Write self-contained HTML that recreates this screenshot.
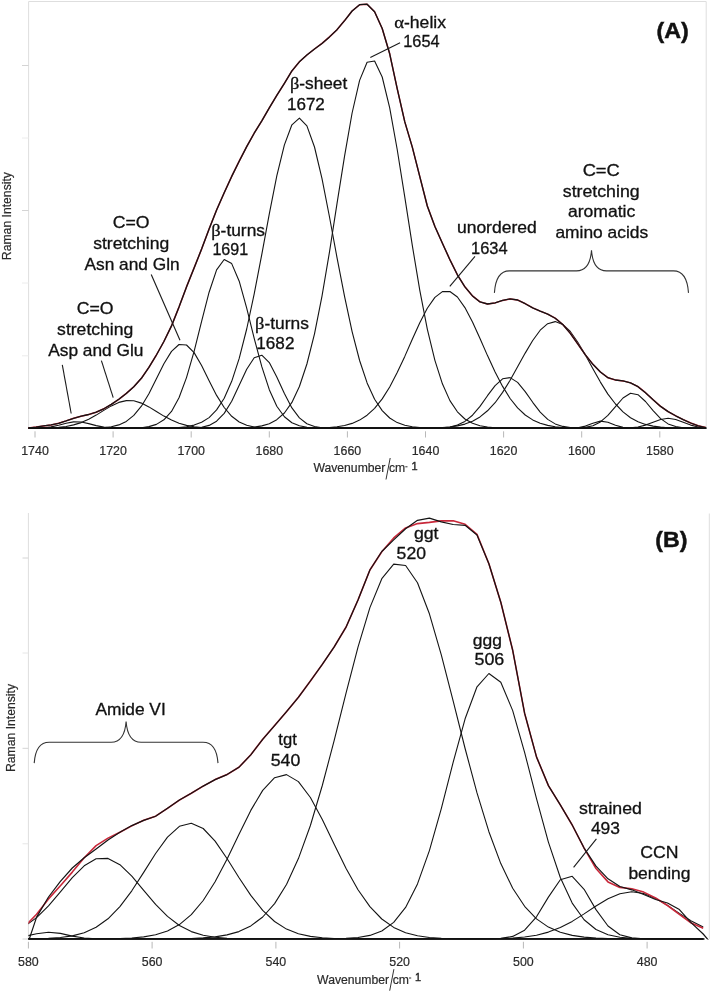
<!DOCTYPE html>
<html><head><meta charset="utf-8"><title>Raman spectra</title>
<style>html,body{margin:0;padding:0;background:#fff;width:714px;height:995px;overflow:hidden}svg{display:block;will-change:transform}</style>
</head><body>
<svg width="714" height="995" viewBox="0 0 714 995">
<style>
.c{fill:none;stroke:#141414;stroke-width:1.1;stroke-linejoin:round}
.r{fill:none;stroke:#c8283a;stroke-width:1.6;stroke-linejoin:round}
.e{fill:none;stroke:#141414;stroke-width:1.2;stroke-linejoin:round}
.ra{fill:none;stroke:#c8283a;stroke-width:1.5;stroke-linejoin:round}
.ea{fill:none;stroke:#141414;stroke-width:1.3;stroke-linejoin:round}
.fr{fill:none;stroke:#dedede;stroke-width:1}
.tk{stroke:#d4d4d4;stroke-width:1}
.xt{stroke:#b8b8b8;stroke-width:1}
.ax{stroke:#111;stroke-width:1.7}
.ld{stroke:#1a1a1a;stroke-width:1.1;fill:none}
.br{stroke:#333;stroke-width:1.1;fill:none}
text{font-family:"Liberation Sans",sans-serif;fill:#111}
.lb{font-size:16px;text-anchor:middle;stroke:#111;stroke-width:0.3px}
.tl{font-size:12.4px;fill:#2a2a2a;text-anchor:middle;stroke:#2a2a2a;stroke-width:0.2px}
.al{font-size:12.2px;fill:#2a2a2a;stroke:#2a2a2a;stroke-width:0.2px}
.gk{font-family:"Liberation Serif",serif;font-size:17px}
.pl{font-size:21.5px;font-weight:bold;text-anchor:middle;stroke:#111;stroke-width:0.45px}
</style>
<polyline class="fr" points="28.6,428.3 28.6,1.5 706.2,1.5 706.2,428.3"/>
<line class="fr" x1="28.4" y1="513" x2="28.4" y2="939"/>
<line class="fr" x1="709.3" y1="513.5" x2="709.3" y2="939"/>
<line class="tk" x1="22" y1="65.5" x2="28.6" y2="65.5"/>
<line class="tk" x1="22" y1="210.5" x2="28.6" y2="210.5"/>
<line class="tk" style="stroke:#ececec" x1="22" y1="138.0" x2="28.6" y2="138.0"/>
<line class="tk" style="stroke:#ececec" x1="22" y1="283.0" x2="28.6" y2="283.0"/>
<line class="tk" style="stroke:#ececec" x1="22" y1="355.8" x2="28.6" y2="355.8"/>
<line class="tk" x1="22.5" y1="558.0" x2="28.4" y2="558.0"/>
<line class="tk" x1="22.5" y1="748.3" x2="28.4" y2="748.3"/>
<line class="tk" x1="22.5" y1="939.0" x2="28.4" y2="939.0"/>
<line class="tk" style="stroke:#e6e6e6" x1="22.5" y1="653.0" x2="28.4" y2="653.0"/>
<line class="tk" style="stroke:#e6e6e6" x1="22.5" y1="843.8" x2="28.4" y2="843.8"/>
<line class="xt" x1="35.0" y1="431.3" x2="35.0" y2="437.5"/>
<text class="tl" x="35.0" y="454.8">1740</text>
<line class="xt" x1="113.1" y1="431.3" x2="113.1" y2="437.5"/>
<text class="tl" x="113.1" y="454.8">1720</text>
<line class="xt" x1="191.2" y1="431.3" x2="191.2" y2="437.5"/>
<text class="tl" x="191.2" y="454.8">1700</text>
<line class="xt" x1="269.3" y1="431.3" x2="269.3" y2="437.5"/>
<text class="tl" x="269.3" y="454.8">1680</text>
<line class="xt" x1="347.4" y1="431.3" x2="347.4" y2="437.5"/>
<text class="tl" x="347.4" y="454.8">1660</text>
<line class="xt" x1="425.5" y1="431.3" x2="425.5" y2="437.5"/>
<text class="tl" x="425.5" y="454.8">1640</text>
<line class="xt" x1="503.6" y1="431.3" x2="503.6" y2="437.5"/>
<text class="tl" x="503.6" y="454.8">1620</text>
<line class="xt" x1="581.7" y1="431.3" x2="581.7" y2="437.5"/>
<text class="tl" x="581.7" y="454.8">1600</text>
<line class="xt" x1="659.8" y1="431.3" x2="659.8" y2="437.5"/>
<text class="tl" x="659.8" y="454.8">1580</text>
<line class="xt" x1="28.4" y1="941.8" x2="28.4" y2="948.5"/>
<text class="tl" x="28.4" y="966">580</text>
<line class="xt" x1="152.1" y1="941.8" x2="152.1" y2="948.5"/>
<text class="tl" x="152.1" y="966">560</text>
<line class="xt" x1="275.9" y1="941.8" x2="275.9" y2="948.5"/>
<text class="tl" x="275.9" y="966">540</text>
<line class="xt" x1="399.6" y1="941.8" x2="399.6" y2="948.5"/>
<text class="tl" x="399.6" y="966">520</text>
<line class="xt" x1="523.4" y1="941.8" x2="523.4" y2="948.5"/>
<text class="tl" x="523.4" y="966">500</text>
<line class="xt" x1="647.1" y1="941.8" x2="647.1" y2="948.5"/>
<text class="tl" x="647.1" y="966">480</text>
<polyline class="c" points="28.5,428.3 36.0,428.2 43.5,427.8 51.1,426.9 58.6,425.3 66.1,423.2 73.6,421.9 81.2,422.0 88.7,423.6 96.2,425.6 103.8,427.1 111.3,427.9 118.8,428.2 126.3,428.3 133.8,428.3 141.4,428.3 148.9,428.3 156.4,428.3 163.9,428.3 171.5,428.3 179.0,428.3 186.5,428.3 194.1,428.3 201.6,428.3 209.1,428.3 216.6,428.3 224.2,428.3 231.7,428.3 239.2,428.3 246.7,428.3 254.2,428.3 261.8,428.3 269.3,428.3 276.8,428.3 284.4,428.3 291.9,428.3 299.4,428.3 306.9,428.3 314.5,428.3 322.0,428.3 329.5,428.3 337.0,428.3 344.6,428.3 352.1,428.3 359.6,428.3 367.1,428.3 374.6,428.3 382.2,428.3 389.7,428.3 397.2,428.3 404.8,428.3 412.3,428.3 419.8,428.3 427.3,428.3 434.9,428.3 442.4,428.3 449.9,428.3 457.4,428.3 464.9,428.3 472.5,428.3 480.0,428.3 487.5,428.3 495.1,428.3 502.6,428.3 510.1,428.3 517.6,428.3 525.2,428.3 532.7,428.3 540.2,428.3 547.7,428.3 555.2,428.3 562.8,428.3 570.3,428.3 577.8,428.3 585.4,428.3 592.9,428.3 600.4,428.3 607.9,428.3 615.5,428.3 623.0,428.3 630.5,428.3 638.0,428.3 645.5,428.3 653.1,428.3 660.6,428.3 668.1,428.3 675.7,428.3 683.2,428.3 690.7,428.3 698.2,428.3 705.8,428.3"/>
<polyline class="c" points="28.5,428.3 36.0,428.2 43.5,428.1 51.1,427.9 58.6,427.4 66.1,426.5 73.6,424.9 81.2,422.6 88.7,419.2 96.2,415.1 103.8,410.4 111.3,405.9 118.8,402.4 126.3,400.6 133.8,400.8 141.4,403.1 148.9,406.9 156.4,411.5 163.9,416.1 171.5,420.1 179.0,423.2 186.5,425.4 194.1,426.7 201.6,427.5 209.1,428.0 216.6,428.2 224.2,428.2 231.7,428.3 239.2,428.3 246.7,428.3 254.2,428.3 261.8,428.3 269.3,428.3 276.8,428.3 284.4,428.3 291.9,428.3 299.4,428.3 306.9,428.3 314.5,428.3 322.0,428.3 329.5,428.3 337.0,428.3 344.6,428.3 352.1,428.3 359.6,428.3 367.1,428.3 374.6,428.3 382.2,428.3 389.7,428.3 397.2,428.3 404.8,428.3 412.3,428.3 419.8,428.3 427.3,428.3 434.9,428.3 442.4,428.3 449.9,428.3 457.4,428.3 464.9,428.3 472.5,428.3 480.0,428.3 487.5,428.3 495.1,428.3 502.6,428.3 510.1,428.3 517.6,428.3 525.2,428.3 532.7,428.3 540.2,428.3 547.7,428.3 555.2,428.3 562.8,428.3 570.3,428.3 577.8,428.3 585.4,428.3 592.9,428.3 600.4,428.3 607.9,428.3 615.5,428.3 623.0,428.3 630.5,428.3 638.0,428.3 645.5,428.3 653.1,428.3 660.6,428.3 668.1,428.3 675.7,428.3 683.2,428.3 690.7,428.3 698.2,428.3 705.8,428.3"/>
<polyline class="c" points="28.5,428.3 36.0,428.3 43.5,428.3 51.1,428.3 58.6,428.3 66.1,428.3 73.6,428.3 81.2,428.3 88.7,428.2 96.2,428.1 103.8,427.7 111.3,426.8 118.8,424.9 126.3,421.4 133.8,415.4 141.4,406.2 148.9,393.7 156.4,378.8 163.9,363.8 171.5,351.4 179.0,344.5 186.5,345.0 194.1,352.6 201.6,365.5 209.1,380.7 216.6,395.4 224.2,407.5 231.7,416.3 239.2,422.0 246.7,425.2 254.2,427.0 261.8,427.8 269.3,428.1 276.8,428.2 284.4,428.3 291.9,428.3 299.4,428.3 306.9,428.3 314.5,428.3 322.0,428.3 329.5,428.3 337.0,428.3 344.6,428.3 352.1,428.3 359.6,428.3 367.1,428.3 374.6,428.3 382.2,428.3 389.7,428.3 397.2,428.3 404.8,428.3 412.3,428.3 419.8,428.3 427.3,428.3 434.9,428.3 442.4,428.3 449.9,428.3 457.4,428.3 464.9,428.3 472.5,428.3 480.0,428.3 487.5,428.3 495.1,428.3 502.6,428.3 510.1,428.3 517.6,428.3 525.2,428.3 532.7,428.3 540.2,428.3 547.7,428.3 555.2,428.3 562.8,428.3 570.3,428.3 577.8,428.3 585.4,428.3 592.9,428.3 600.4,428.3 607.9,428.3 615.5,428.3 623.0,428.3 630.5,428.3 638.0,428.3 645.5,428.3 653.1,428.3 660.6,428.3 668.1,428.3 675.7,428.3 683.2,428.3 690.7,428.3 698.2,428.3 705.8,428.3"/>
<polyline class="c" points="28.5,428.3 36.0,428.3 43.5,428.3 51.1,428.3 58.6,428.3 66.1,428.3 73.6,428.3 81.2,428.3 88.7,428.3 96.2,428.3 103.8,428.3 111.3,428.3 118.8,428.3 126.3,428.2 133.8,428.1 141.4,427.7 148.9,426.6 156.4,424.4 163.9,419.8 171.5,411.4 179.0,397.7 186.5,377.6 194.1,351.3 201.6,321.3 209.1,292.2 216.6,269.9 224.2,259.5 231.7,263.6 239.2,281.2 246.7,308.1 254.2,338.4 261.8,366.7 269.3,389.7 276.8,406.2 284.4,416.7 291.9,422.7 299.4,425.8 306.9,427.3 314.5,427.9 322.0,428.2 329.5,428.3 337.0,428.3 344.6,428.3 352.1,428.3 359.6,428.3 367.1,428.3 374.6,428.3 382.2,428.3 389.7,428.3 397.2,428.3 404.8,428.3 412.3,428.3 419.8,428.3 427.3,428.3 434.9,428.3 442.4,428.3 449.9,428.3 457.4,428.3 464.9,428.3 472.5,428.3 480.0,428.3 487.5,428.3 495.1,428.3 502.6,428.3 510.1,428.3 517.6,428.3 525.2,428.3 532.7,428.3 540.2,428.3 547.7,428.3 555.2,428.3 562.8,428.3 570.3,428.3 577.8,428.3 585.4,428.3 592.9,428.3 600.4,428.3 607.9,428.3 615.5,428.3 623.0,428.3 630.5,428.3 638.0,428.3 645.5,428.3 653.1,428.3 660.6,428.3 668.1,428.3 675.7,428.3 683.2,428.3 690.7,428.3 698.2,428.3 705.8,428.3"/>
<polyline class="c" points="28.5,428.3 36.0,428.3 43.5,428.3 51.1,428.3 58.6,428.3 66.1,428.3 73.6,428.3 81.2,428.3 88.7,428.3 96.2,428.3 103.8,428.3 111.3,428.3 118.8,428.3 126.3,428.3 133.8,428.3 141.4,428.3 148.9,428.3 156.4,428.3 163.9,428.3 171.5,428.3 179.0,428.3 186.5,428.2 194.1,428.0 201.6,427.3 209.1,425.4 216.6,421.2 224.2,413.4 231.7,401.2 239.2,385.3 246.7,369.2 254.2,357.8 261.8,355.2 269.3,362.6 276.8,377.0 284.4,393.5 291.9,407.9 299.4,417.9 306.9,423.7 314.5,426.5 322.0,427.7 329.5,428.1 337.0,428.3 344.6,428.3 352.1,428.3 359.6,428.3 367.1,428.3 374.6,428.3 382.2,428.3 389.7,428.3 397.2,428.3 404.8,428.3 412.3,428.3 419.8,428.3 427.3,428.3 434.9,428.3 442.4,428.3 449.9,428.3 457.4,428.3 464.9,428.3 472.5,428.3 480.0,428.3 487.5,428.3 495.1,428.3 502.6,428.3 510.1,428.3 517.6,428.3 525.2,428.3 532.7,428.3 540.2,428.3 547.7,428.3 555.2,428.3 562.8,428.3 570.3,428.3 577.8,428.3 585.4,428.3 592.9,428.3 600.4,428.3 607.9,428.3 615.5,428.3 623.0,428.3 630.5,428.3 638.0,428.3 645.5,428.3 653.1,428.3 660.6,428.3 668.1,428.3 675.7,428.3 683.2,428.3 690.7,428.3 698.2,428.3 705.8,428.3"/>
<polyline class="c" points="28.5,428.3 36.0,428.3 43.5,428.3 51.1,428.3 58.6,428.3 66.1,428.3 73.6,428.3 81.2,428.3 88.7,428.3 96.2,428.3 103.8,428.3 111.3,428.3 118.8,428.3 126.3,428.3 133.8,428.3 141.4,428.3 148.9,428.3 156.4,428.2 163.9,428.1 171.5,427.9 179.0,427.5 186.5,426.7 194.1,425.1 201.6,422.3 209.1,417.6 216.6,409.9 224.2,398.2 231.7,381.3 239.2,358.4 246.7,329.0 254.2,293.8 261.8,254.4 269.3,213.8 276.8,175.9 284.4,144.9 291.9,124.8 299.4,118.1 306.9,125.9 314.5,147.0 322.0,178.7 329.5,217.0 337.0,257.6 344.6,296.7 352.1,331.6 359.6,360.5 367.1,382.9 374.6,399.3 382.2,410.6 389.7,418.0 397.2,422.6 404.8,425.3 412.3,426.8 419.8,427.6 427.3,428.0 434.9,428.2 442.4,428.2 449.9,428.3 457.4,428.3 464.9,428.3 472.5,428.3 480.0,428.3 487.5,428.3 495.1,428.3 502.6,428.3 510.1,428.3 517.6,428.3 525.2,428.3 532.7,428.3 540.2,428.3 547.7,428.3 555.2,428.3 562.8,428.3 570.3,428.3 577.8,428.3 585.4,428.3 592.9,428.3 600.4,428.3 607.9,428.3 615.5,428.3 623.0,428.3 630.5,428.3 638.0,428.3 645.5,428.3 653.1,428.3 660.6,428.3 668.1,428.3 675.7,428.3 683.2,428.3 690.7,428.3 698.2,428.3 705.8,428.3"/>
<polyline class="c" points="28.5,428.3 36.0,428.3 43.5,428.3 51.1,428.3 58.6,428.3 66.1,428.3 73.6,428.3 81.2,428.3 88.7,428.3 96.2,428.3 103.8,428.3 111.3,428.3 118.8,428.3 126.3,428.3 133.8,428.3 141.4,428.3 148.9,428.3 156.4,428.3 163.9,428.3 171.5,428.3 179.0,428.3 186.5,428.3 194.1,428.3 201.6,428.3 209.1,428.3 216.6,428.3 224.2,428.3 231.7,428.2 239.2,428.1 246.7,427.8 254.2,427.1 261.8,425.9 269.3,423.7 276.8,419.7 284.4,413.0 291.9,402.4 299.4,386.5 306.9,364.0 314.5,333.8 322.0,296.1 329.5,251.9 337.0,203.7 344.6,155.8 352.1,113.0 359.6,80.4 367.1,62.2 374.6,61.0 382.2,77.0 389.7,107.8 397.2,149.5 404.8,197.1 412.3,245.4 419.8,290.4 427.3,329.1 434.9,360.3 442.4,383.8 449.9,400.6 457.4,411.8 464.9,419.0 472.5,423.3 480.0,425.7 487.5,427.0 495.1,427.7 502.6,428.0 510.1,428.2 517.6,428.3 525.2,428.3 532.7,428.3 540.2,428.3 547.7,428.3 555.2,428.3 562.8,428.3 570.3,428.3 577.8,428.3 585.4,428.3 592.9,428.3 600.4,428.3 607.9,428.3 615.5,428.3 623.0,428.3 630.5,428.3 638.0,428.3 645.5,428.3 653.1,428.3 660.6,428.3 668.1,428.3 675.7,428.3 683.2,428.3 690.7,428.3 698.2,428.3 705.8,428.3"/>
<polyline class="c" points="28.5,428.3 36.0,428.3 43.5,428.3 51.1,428.3 58.6,428.3 66.1,428.3 73.6,428.3 81.2,428.3 88.7,428.3 96.2,428.3 103.8,428.3 111.3,428.3 118.8,428.3 126.3,428.3 133.8,428.3 141.4,428.3 148.9,428.3 156.4,428.3 163.9,428.3 171.5,428.3 179.0,428.3 186.5,428.3 194.1,428.3 201.6,428.3 209.1,428.3 216.6,428.3 224.2,428.3 231.7,428.3 239.2,428.3 246.7,428.3 254.2,428.3 261.8,428.3 269.3,428.3 276.8,428.3 284.4,428.3 291.9,428.3 299.4,428.3 306.9,428.2 314.5,428.1 322.0,427.9 329.5,427.5 337.0,426.7 344.6,425.5 352.1,423.4 359.6,420.1 367.1,415.2 374.6,408.3 382.2,398.9 389.7,387.0 397.2,372.6 404.8,356.4 412.3,339.3 419.8,322.7 427.3,308.2 434.9,297.4 442.4,291.6 449.9,291.5 457.4,297.0 464.9,307.6 472.5,322.0 480.0,338.5 487.5,355.6 495.1,371.9 502.6,386.4 510.1,398.5 517.6,407.9 525.2,415.0 532.7,419.9 540.2,423.3 547.7,425.4 555.2,426.7 562.8,427.5 570.3,427.9 577.8,428.1 585.4,428.2 592.9,428.3 600.4,428.3 607.9,428.3 615.5,428.3 623.0,428.3 630.5,428.3 638.0,428.3 645.5,428.3 653.1,428.3 660.6,428.3 668.1,428.3 675.7,428.3 683.2,428.3 690.7,428.3 698.2,428.3 705.8,428.3"/>
<polyline class="c" points="28.5,428.3 36.0,428.3 43.5,428.3 51.1,428.3 58.6,428.3 66.1,428.3 73.6,428.3 81.2,428.3 88.7,428.3 96.2,428.3 103.8,428.3 111.3,428.3 118.8,428.3 126.3,428.3 133.8,428.3 141.4,428.3 148.9,428.3 156.4,428.3 163.9,428.3 171.5,428.3 179.0,428.3 186.5,428.3 194.1,428.3 201.6,428.3 209.1,428.3 216.6,428.3 224.2,428.3 231.7,428.3 239.2,428.3 246.7,428.3 254.2,428.3 261.8,428.3 269.3,428.3 276.8,428.3 284.4,428.3 291.9,428.3 299.4,428.3 306.9,428.3 314.5,428.3 322.0,428.3 329.5,428.3 337.0,428.3 344.6,428.3 352.1,428.3 359.6,428.3 367.1,428.3 374.6,428.3 382.2,428.3 389.7,428.3 397.2,428.3 404.8,428.3 412.3,428.3 419.8,428.3 427.3,428.3 434.9,428.1 442.4,427.8 449.9,427.0 457.4,425.1 464.9,421.4 472.5,415.2 480.0,406.4 487.5,395.7 495.1,385.6 502.6,378.8 510.1,377.6 517.6,382.4 525.2,391.6 532.7,402.3 540.2,412.1 547.7,419.4 555.2,423.9 562.8,426.4 570.3,427.6 577.8,428.1 585.4,428.2 592.9,428.3 600.4,428.3 607.9,428.3 615.5,428.3 623.0,428.3 630.5,428.3 638.0,428.3 645.5,428.3 653.1,428.3 660.6,428.3 668.1,428.3 675.7,428.3 683.2,428.3 690.7,428.3 698.2,428.3 705.8,428.3"/>
<polyline class="c" points="28.5,428.3 36.0,428.3 43.5,428.3 51.1,428.3 58.6,428.3 66.1,428.3 73.6,428.3 81.2,428.3 88.7,428.3 96.2,428.3 103.8,428.3 111.3,428.3 118.8,428.3 126.3,428.3 133.8,428.3 141.4,428.3 148.9,428.3 156.4,428.3 163.9,428.3 171.5,428.3 179.0,428.3 186.5,428.3 194.1,428.3 201.6,428.3 209.1,428.3 216.6,428.3 224.2,428.3 231.7,428.3 239.2,428.3 246.7,428.3 254.2,428.3 261.8,428.3 269.3,428.3 276.8,428.3 284.4,428.3 291.9,428.3 299.4,428.3 306.9,428.3 314.5,428.3 322.0,428.3 329.5,428.3 337.0,428.3 344.6,428.3 352.1,428.3 359.6,428.3 367.1,428.3 374.6,428.3 382.2,428.3 389.7,428.3 397.2,428.3 404.8,428.3 412.3,428.3 419.8,428.2 427.3,428.1 434.9,428.0 442.4,427.6 449.9,427.0 457.4,425.9 464.9,424.1 472.5,421.2 480.0,416.9 487.5,410.8 495.1,402.7 502.6,392.4 510.1,380.3 517.6,366.8 525.2,353.1 532.7,340.5 540.2,330.2 547.7,323.7 555.2,321.6 562.8,324.4 570.3,331.5 577.8,342.2 585.4,355.1 592.9,368.8 600.4,382.1 607.9,394.1 615.5,404.0 623.0,411.9 630.5,417.7 638.0,421.7 645.5,424.4 653.1,426.1 660.6,427.1 668.1,427.7 675.7,428.0 683.2,428.2 690.7,428.2 698.2,428.3 705.8,428.3"/>
<polyline class="c" points="28.5,428.3 36.0,428.3 43.5,428.3 51.1,428.3 58.6,428.3 66.1,428.3 73.6,428.3 81.2,428.3 88.7,428.3 96.2,428.3 103.8,428.3 111.3,428.3 118.8,428.3 126.3,428.3 133.8,428.3 141.4,428.3 148.9,428.3 156.4,428.3 163.9,428.3 171.5,428.3 179.0,428.3 186.5,428.3 194.1,428.3 201.6,428.3 209.1,428.3 216.6,428.3 224.2,428.3 231.7,428.3 239.2,428.3 246.7,428.3 254.2,428.3 261.8,428.3 269.3,428.3 276.8,428.3 284.4,428.3 291.9,428.3 299.4,428.3 306.9,428.3 314.5,428.3 322.0,428.3 329.5,428.3 337.0,428.3 344.6,428.3 352.1,428.3 359.6,428.3 367.1,428.3 374.6,428.3 382.2,428.3 389.7,428.3 397.2,428.3 404.8,428.3 412.3,428.3 419.8,428.3 427.3,428.3 434.9,428.3 442.4,428.3 449.9,428.3 457.4,428.3 464.9,428.3 472.5,428.3 480.0,428.3 487.5,428.3 495.1,428.3 502.6,428.3 510.1,428.3 517.6,428.3 525.2,428.3 532.7,428.3 540.2,428.3 547.7,428.3 555.2,428.3 562.8,428.3 570.3,428.2 577.8,427.7 585.4,426.1 592.9,423.2 600.4,421.1 607.9,422.3 615.5,425.3 623.0,427.4 630.5,428.1 638.0,428.3 645.5,428.3 653.1,428.3 660.6,428.3 668.1,428.3 675.7,428.3 683.2,428.3 690.7,428.3 698.2,428.3 705.8,428.3"/>
<polyline class="c" points="28.5,428.3 36.0,428.3 43.5,428.3 51.1,428.3 58.6,428.3 66.1,428.3 73.6,428.3 81.2,428.3 88.7,428.3 96.2,428.3 103.8,428.3 111.3,428.3 118.8,428.3 126.3,428.3 133.8,428.3 141.4,428.3 148.9,428.3 156.4,428.3 163.9,428.3 171.5,428.3 179.0,428.3 186.5,428.3 194.1,428.3 201.6,428.3 209.1,428.3 216.6,428.3 224.2,428.3 231.7,428.3 239.2,428.3 246.7,428.3 254.2,428.3 261.8,428.3 269.3,428.3 276.8,428.3 284.4,428.3 291.9,428.3 299.4,428.3 306.9,428.3 314.5,428.3 322.0,428.3 329.5,428.3 337.0,428.3 344.6,428.3 352.1,428.3 359.6,428.3 367.1,428.3 374.6,428.3 382.2,428.3 389.7,428.3 397.2,428.3 404.8,428.3 412.3,428.3 419.8,428.3 427.3,428.3 434.9,428.3 442.4,428.3 449.9,428.3 457.4,428.3 464.9,428.3 472.5,428.3 480.0,428.3 487.5,428.3 495.1,428.3 502.6,428.3 510.1,428.3 517.6,428.3 525.2,428.3 532.7,428.3 540.2,428.3 547.7,428.3 555.2,428.3 562.8,428.3 570.3,428.2 577.8,428.1 585.4,427.4 592.9,425.7 600.4,421.9 607.9,415.4 615.5,406.6 623.0,398.0 630.5,393.3 638.0,394.7 645.5,401.5 653.1,410.6 660.6,418.6 668.1,423.9 675.7,426.6 683.2,427.8 690.7,428.2 698.2,428.3 705.8,428.3"/>
<polyline class="c" points="28.5,428.3 36.0,428.3 43.5,428.3 51.1,428.3 58.6,428.3 66.1,428.3 73.6,428.3 81.2,428.3 88.7,428.3 96.2,428.3 103.8,428.3 111.3,428.3 118.8,428.3 126.3,428.3 133.8,428.3 141.4,428.3 148.9,428.3 156.4,428.3 163.9,428.3 171.5,428.3 179.0,428.3 186.5,428.3 194.1,428.3 201.6,428.3 209.1,428.3 216.6,428.3 224.2,428.3 231.7,428.3 239.2,428.3 246.7,428.3 254.2,428.3 261.8,428.3 269.3,428.3 276.8,428.3 284.4,428.3 291.9,428.3 299.4,428.3 306.9,428.3 314.5,428.3 322.0,428.3 329.5,428.3 337.0,428.3 344.6,428.3 352.1,428.3 359.6,428.3 367.1,428.3 374.6,428.3 382.2,428.3 389.7,428.3 397.2,428.3 404.8,428.3 412.3,428.3 419.8,428.3 427.3,428.3 434.9,428.3 442.4,428.3 449.9,428.3 457.4,428.3 464.9,428.3 472.5,428.3 480.0,428.3 487.5,428.3 495.1,428.3 502.6,428.3 510.1,428.3 517.6,428.3 525.2,428.3 532.7,428.3 540.2,428.3 547.7,428.3 555.2,428.3 562.8,428.3 570.3,428.3 577.8,428.3 585.4,428.3 592.9,428.3 600.4,428.3 607.9,428.3 615.5,428.3 623.0,428.2 630.5,427.9 638.0,427.0 645.5,425.1 653.1,422.2 660.6,419.5 668.1,418.3 675.7,419.5 683.2,422.3 690.7,425.1 698.2,427.0 705.8,427.9"/>
<polyline class="ra" points="28.5,428.1 36.0,427.1 43.5,425.9 51.1,424.9 58.6,423.3 66.1,420.9 73.6,418.3 81.2,416.2 88.7,414.5 96.2,412.2 103.8,408.8 111.3,404.4 118.8,399.3 126.3,393.4 133.8,386.7 141.4,378.3 148.9,367.4 156.4,355.0 163.9,341.5 171.5,325.9 179.0,307.1 186.5,286.9 194.1,267.9 201.6,249.1 209.1,229.0 216.6,210.0 224.2,192.7 231.7,176.4 239.2,161.2 246.7,146.6 254.2,133.2 261.8,120.8 269.3,107.9 276.8,95.4 284.4,83.3 291.9,70.9 299.4,61.8 306.9,55.0 314.5,49.0 322.0,43.4 329.5,36.9 337.0,29.7 344.6,20.6 352.1,11.0 359.6,4.7 367.1,4.2 374.6,11.7 382.2,28.5 389.7,53.8 397.2,88.7 404.8,121.9 412.3,147.1 419.8,176.6 427.3,206.0 434.9,226.5 442.4,243.2 449.9,259.7 457.4,274.8 464.9,286.8 472.5,295.9 480.0,301.9 487.5,304.0 495.1,302.9 502.6,300.4 510.1,298.9 517.6,300.0 525.2,303.7 532.7,307.9 540.2,311.1 547.7,314.1 555.2,318.2 562.8,324.5 570.3,333.3 577.8,344.0 585.4,354.9 592.9,364.3 600.4,372.0 607.9,377.7 615.5,380.0 623.0,380.9 630.5,382.9 638.0,386.7 645.5,392.7 653.1,399.8 660.6,406.4 668.1,411.6 675.7,415.8 683.2,419.6 690.7,423.0 698.2,425.8 705.8,427.6"/>
<polyline class="ea" points="28.5,428.1 36.0,427.1 43.5,425.9 51.1,424.9 58.6,423.3 66.1,420.9 73.6,418.3 81.2,416.2 88.7,414.5 96.2,412.2 103.8,408.8 111.3,404.4 118.8,399.3 126.3,393.4 133.8,386.7 141.4,378.3 148.9,367.4 156.4,355.0 163.9,341.5 171.5,325.9 179.0,307.1 186.5,286.9 194.1,267.9 201.6,249.1 209.1,229.0 216.6,210.0 224.2,192.7 231.7,176.4 239.2,161.2 246.7,146.6 254.2,133.2 261.8,120.8 269.3,107.9 276.8,95.4 284.4,83.3 291.9,70.9 299.4,61.8 306.9,55.0 314.5,49.0 322.0,43.4 329.5,36.9 337.0,29.7 344.6,20.6 352.1,11.0 359.6,4.7 367.1,4.2 374.6,11.7 382.2,28.5 389.7,53.8 397.2,88.7 404.8,121.9 412.3,147.1 419.8,176.6 427.3,206.0 434.9,226.5 442.4,243.2 449.9,259.7 457.4,274.8 464.9,286.8 472.5,295.9 480.0,301.9 487.5,304.0 495.1,302.9 502.6,300.4 510.1,298.9 517.6,300.0 525.2,303.7 532.7,307.9 540.2,311.1 547.7,314.1 555.2,318.2 562.8,324.5 570.3,333.3 577.8,344.0 585.4,354.9 592.9,364.3 600.4,372.0 607.9,377.7 615.5,380.0 623.0,380.9 630.5,382.9 638.0,386.7 645.5,392.7 653.1,399.8 660.6,406.4 668.1,411.6 675.7,415.8 683.2,419.6 690.7,423.0 698.2,425.8 705.8,427.6"/>

<defs><clipPath id="cb"><rect x="28.4" y="500" width="682" height="439.6"/></clipPath></defs>
<g clip-path="url(#cb)"><polyline class="c" points="24.7,936.4 36.6,933.7 48.5,932.2 60.4,933.4 72.3,936.1 84.2,938.0 96.1,938.8 108.0,939.0 119.9,939.0 131.8,939.0 143.7,939.0 155.6,939.0 167.5,939.0 179.4,939.0 191.3,939.0 203.2,939.0 215.1,939.0 227.0,939.0 238.9,939.0 250.8,939.0 262.7,939.0 274.6,939.0 286.5,939.0 298.4,939.0 310.4,939.0 322.3,939.0 334.2,939.0 346.1,939.0 358.0,939.0 369.9,939.0 381.8,939.0 393.7,939.0 405.6,939.0 417.5,939.0 429.4,939.0 441.3,939.0 453.2,939.0 465.1,939.0 477.0,939.0 488.9,939.0 500.8,939.0 512.7,939.0 524.6,939.0 536.5,939.0 548.4,939.0 560.3,939.0 572.2,939.0 584.1,939.0 596.0,939.0 608.0,939.0 619.9,939.0 631.8,939.0 643.7,939.0 655.6,939.0 667.5,939.0 679.4,939.0 691.3,939.0 703.2,939.0"/>
<polyline class="c" points="24.7,926.3 36.6,917.6 48.5,905.8 60.4,891.9 72.3,877.7 84.2,865.8 96.1,858.8 108.0,858.4 119.9,864.7 131.8,876.2 143.7,890.3 155.6,904.4 167.5,916.4 179.4,925.5 191.3,931.6 203.2,935.3 215.1,937.3 227.0,938.3 238.9,938.7 250.8,938.9 262.7,939.0 274.6,939.0 286.5,939.0 298.4,939.0 310.4,939.0 322.3,939.0 334.2,939.0 346.1,939.0 358.0,939.0 369.9,939.0 381.8,939.0 393.7,939.0 405.6,939.0 417.5,939.0 429.4,939.0 441.3,939.0 453.2,939.0 465.1,939.0 477.0,939.0 488.9,939.0 500.8,939.0 512.7,939.0 524.6,939.0 536.5,939.0 548.4,939.0 560.3,939.0 572.2,939.0 584.1,939.0 596.0,939.0 608.0,939.0 619.9,939.0 631.8,939.0 643.7,939.0 655.6,939.0 667.5,939.0 679.4,939.0 691.3,939.0 703.2,939.0"/>
<polyline class="c" points="24.7,938.9 36.6,938.8 48.5,938.4 60.4,937.5 72.3,935.9 84.2,932.7 96.1,927.3 108.0,918.8 119.9,906.6 131.8,890.8 143.7,872.4 155.6,853.5 167.5,837.1 179.4,826.3 191.3,823.2 203.2,828.5 215.1,841.1 227.0,858.5 238.9,877.5 250.8,895.4 262.7,910.3 274.6,921.5 286.5,929.1 298.4,933.8 310.4,936.4 322.3,937.8 334.2,938.5 346.1,938.8 358.0,938.9 369.9,939.0 381.8,939.0 393.7,939.0 405.6,939.0 417.5,939.0 429.4,939.0 441.3,939.0 453.2,939.0 465.1,939.0 477.0,939.0 488.9,939.0 500.8,939.0 512.7,939.0 524.6,939.0 536.5,939.0 548.4,939.0 560.3,939.0 572.2,939.0 584.1,939.0 596.0,939.0 608.0,939.0 619.9,939.0 631.8,939.0 643.7,939.0 655.6,939.0 667.5,939.0 679.4,939.0 691.3,939.0 703.2,939.0"/>
<polyline class="c" points="24.7,939.0 36.6,939.0 48.5,939.0 60.4,939.0 72.3,939.0 84.2,939.0 96.1,938.9 108.0,938.8 119.9,938.6 131.8,938.0 143.7,936.9 155.6,934.8 167.5,930.9 179.4,924.6 191.3,914.7 203.2,900.5 215.1,881.8 227.0,859.2 238.9,834.5 250.8,810.4 262.7,790.4 274.6,777.7 286.5,774.6 298.4,781.6 310.4,797.5 322.3,819.6 334.2,844.3 346.1,868.5 358.0,889.7 369.9,906.6 381.8,919.0 393.7,927.4 405.6,932.7 417.5,935.8 429.4,937.5 441.3,938.3 453.2,938.7 465.1,938.9 477.0,939.0 488.9,939.0 500.8,939.0 512.7,939.0 524.6,939.0 536.5,939.0 548.4,939.0 560.3,939.0 572.2,939.0 584.1,939.0 596.0,939.0 608.0,939.0 619.9,939.0 631.8,939.0 643.7,939.0 655.6,939.0 667.5,939.0 679.4,939.0 691.3,939.0 703.2,939.0"/>
<polyline class="c" points="24.7,939.0 36.6,939.0 48.5,939.0 60.4,939.0 72.3,939.0 84.2,939.0 96.1,939.0 108.0,939.0 119.9,939.0 131.8,939.0 143.7,939.0 155.6,939.0 167.5,938.9 179.4,938.8 191.3,938.5 203.2,937.9 215.1,936.9 227.0,934.9 238.9,931.6 250.8,925.9 262.7,917.0 274.6,903.6 286.5,884.5 298.4,858.6 310.4,825.5 322.3,785.5 334.2,740.4 346.1,692.9 358.0,647.1 369.9,607.6 381.8,578.7 393.7,564.1 405.6,565.5 417.5,582.8 429.4,613.8 441.3,654.8 453.2,701.2 465.1,748.5 477.0,792.9 488.9,831.7 500.8,863.6 512.7,888.3 524.6,906.3 536.5,918.9 548.4,927.1 560.3,932.3 572.2,935.4 584.1,937.1 596.0,938.1 608.0,938.6 619.9,938.8 631.8,938.9 643.7,939.0 655.6,939.0 667.5,939.0 679.4,939.0 691.3,939.0 703.2,939.0"/>
<polyline class="c" points="24.7,939.0 36.6,939.0 48.5,939.0 60.4,939.0 72.3,939.0 84.2,939.0 96.1,939.0 108.0,939.0 119.9,939.0 131.8,939.0 143.7,939.0 155.6,939.0 167.5,939.0 179.4,939.0 191.3,939.0 203.2,939.0 215.1,939.0 227.0,939.0 238.9,939.0 250.8,939.0 262.7,939.0 274.6,939.0 286.5,939.0 298.4,939.0 310.4,939.0 322.3,938.9 334.2,938.8 346.1,938.4 358.0,937.5 369.9,935.4 381.8,931.0 393.7,922.4 405.6,907.4 417.5,883.9 429.4,850.6 441.3,808.6 453.2,762.2 465.1,718.8 477.0,686.8 488.9,673.5 500.8,682.2 512.7,710.6 524.6,752.3 536.5,798.7 548.4,842.1 560.3,877.5 572.2,903.1 584.1,919.8 596.0,929.5 608.0,934.7 619.9,937.2 631.8,938.3 643.7,938.8 655.6,938.9 667.5,939.0 679.4,939.0 691.3,939.0 703.2,939.0"/>
<polyline class="c" points="24.7,939.0 36.6,939.0 48.5,939.0 60.4,939.0 72.3,939.0 84.2,939.0 96.1,939.0 108.0,939.0 119.9,939.0 131.8,939.0 143.7,939.0 155.6,939.0 167.5,939.0 179.4,939.0 191.3,939.0 203.2,939.0 215.1,939.0 227.0,939.0 238.9,939.0 250.8,939.0 262.7,939.0 274.6,939.0 286.5,939.0 298.4,939.0 310.4,939.0 322.3,939.0 334.2,939.0 346.1,939.0 358.0,939.0 369.9,939.0 381.8,939.0 393.7,939.0 405.6,939.0 417.5,939.0 429.4,939.0 441.3,939.0 453.2,939.0 465.1,939.0 477.0,939.0 488.9,938.9 500.8,938.4 512.7,936.4 524.6,930.2 536.5,916.8 548.4,897.1 560.3,879.7 572.2,876.3 584.1,889.3 596.0,909.6 608.0,926.0 619.9,934.7 631.8,937.9 643.7,938.8 655.6,939.0 667.5,939.0 679.4,939.0 691.3,939.0 703.2,939.0"/>
<polyline class="c" points="24.7,939.0 36.6,939.0 48.5,939.0 60.4,939.0 72.3,939.0 84.2,939.0 96.1,939.0 108.0,939.0 119.9,939.0 131.8,939.0 143.7,939.0 155.6,939.0 167.5,939.0 179.4,939.0 191.3,939.0 203.2,939.0 215.1,939.0 227.0,939.0 238.9,939.0 250.8,939.0 262.7,939.0 274.6,939.0 286.5,939.0 298.4,939.0 310.4,939.0 322.3,939.0 334.2,939.0 346.1,939.0 358.0,939.0 369.9,939.0 381.8,939.0 393.7,939.0 405.6,939.0 417.5,939.0 429.4,939.0 441.3,939.0 453.2,939.0 465.1,939.0 477.0,938.9 488.9,938.8 500.8,938.6 512.7,938.1 524.6,937.0 536.5,935.2 548.4,932.1 560.3,927.5 572.2,921.4 584.1,913.9 596.0,906.0 608.0,898.8 619.9,893.7 631.8,891.8 643.7,893.5 655.6,898.4 667.5,905.4 679.4,913.4 691.3,920.9 703.2,927.1"/>
<polyline class="r" points="24.7,926.5 36.6,914.2 48.5,898.9 60.4,885.7 72.3,872.1 84.2,857.7 96.1,845.6 108.0,838.1 119.9,832.2 131.8,825.9 143.7,820.3 155.6,816.2 167.5,808.3 179.4,800.1 191.3,793.3 203.2,786.1 215.1,779.6 227.0,774.6 238.9,767.3 250.8,754.8 262.7,739.3 274.6,725.6 286.5,711.7 298.4,697.3 310.4,681.0 322.3,664.4 334.2,646.9 346.1,627.0 358.0,600.0 369.9,570.0 381.8,551.7 393.7,537.9 405.6,527.9 417.5,523.6 429.4,522.4 441.3,520.9 453.2,520.8 465.1,524.3 477.0,534.4 488.9,563.8 500.8,602.2 512.7,650.3 524.6,713.2 536.5,756.9 548.4,785.6 560.3,804.9 572.2,825.0 584.1,848.1 596.0,868.5 608.0,881.9 619.9,887.4 631.8,888.8 643.7,892.1 655.6,898.0 667.5,905.5 679.4,914.4 691.3,923.0 703.2,928.3"/>
<polyline class="e" points="24.7,952.7 36.6,917.1 48.5,897.0 60.4,881.3 72.3,868.0 84.2,857.7 96.1,849.0 108.0,840.0 119.9,832.3 131.8,825.6 143.7,820.4 155.6,816.3 167.5,808.3 179.4,800.1 191.3,793.3 203.2,786.1 215.1,779.6 227.0,774.6 238.9,767.3 250.8,754.8 262.7,739.3 274.6,725.6 286.5,711.7 298.4,697.3 310.4,681.0 322.3,664.4 334.2,646.9 346.1,627.0 358.0,600.0 369.9,570.0 381.8,551.5 393.7,539.9 405.6,528.7 417.5,520.3 429.4,518.1 441.3,521.9 453.2,524.5 465.1,525.3 477.0,535.0 488.9,563.8 500.8,602.2 512.7,650.3 524.6,713.2 536.5,756.9 548.4,785.6 560.3,804.9 572.2,825.0 584.1,848.1 596.0,866.1 608.0,878.8 619.9,886.5 631.8,889.8 643.7,894.5 655.6,899.5 667.5,903.0 679.4,909.6 691.3,922.9 703.2,934.0 715.1,948.0"/>
</g>
<line class="ax" x1="28.6" y1="428.2" x2="706.6" y2="428.2"/>
<line class="ax" x1="28.4" y1="939" x2="704.5" y2="939"/>
<text class="al" x="313.4" y="472.3">Wavenumber</text><line style="stroke:#333;stroke-width:1" x1="386.0" y1="479.5" x2="390.2" y2="458.0"/><text class="al" x="389.0" y="472.3">cm</text><line style="stroke:#333;stroke-width:1" x1="405.3" y1="466.8" x2="407.5" y2="466.8"/><text class="al" style="font-size:11px;stroke-width:0.4px" x="411.4" y="469.7">1</text>
<text class="al" x="317.1" y="983.5">Wavenumber</text><line style="stroke:#333;stroke-width:1" x1="389.7" y1="990.7" x2="393.9" y2="969.2"/><text class="al" x="392.7" y="983.5">cm</text><line style="stroke:#333;stroke-width:1" x1="409.0" y1="978.0" x2="411.2" y2="978.0"/><text class="al" style="font-size:11px;stroke-width:0.4px" x="415.1" y="980.9">1</text>
<text class="al" text-anchor="middle" transform="translate(10.9,216.1) rotate(-90)">Raman Intensity</text>
<text class="al" text-anchor="middle" transform="translate(15,728) rotate(-90)">Raman Intensity</text>
<text class="pl" style="text-anchor:start" transform="translate(656.52,37.70) scale(1.0821,1)">(A)</text>
<text class="lb" style="text-anchor:start" transform="translate(394.20,27.60) scale(1.1000,1)"><tspan class="gk">α</tspan>-helix</text>
<text class="lb" style="text-anchor:start" transform="translate(403.28,47.40) scale(1.0200,1)">1654</text>
<text class="lb" style="text-anchor:start" transform="translate(289.92,89.40) scale(1.0808,1)"><tspan class="gk">β</tspan>-sheet</text>
<text class="lb" style="text-anchor:start" transform="translate(286.94,109.60) scale(1.0647,1)">1672</text>
<text class="lb" style="text-anchor:start" transform="translate(211.21,236.30) scale(1.0854,1)"><tspan class="gk">β</tspan>-turns</text>
<text class="lb" style="text-anchor:start" transform="translate(212.39,255.30) scale(1.0059,1)">1691</text>
<text class="lb" style="text-anchor:start" transform="translate(255.11,328.50) scale(1.0854,1)"><tspan class="gk">β</tspan>-turns</text>
<text class="lb" style="text-anchor:start" transform="translate(256.33,348.70) scale(1.0706,1)">1682</text>
<text class="lb" style="text-anchor:start" transform="translate(112.80,227.70) scale(1.1031,1)">C=O</text>
<text class="lb" style="text-anchor:start" transform="translate(93.20,248.50) scale(1.0956,1)">stretching</text>
<text class="lb" style="text-anchor:start" transform="translate(84.50,270.00) scale(1.0816,1)">Asn and Gln</text>
<text class="lb" style="text-anchor:start" transform="translate(76.80,313.50) scale(1.1031,1)">C=O</text>
<text class="lb" style="text-anchor:start" transform="translate(57.10,335.40) scale(1.0985,1)">stretching</text>
<text class="lb" style="text-anchor:start" transform="translate(48.20,355.50) scale(1.0816,1)">Asp and Glu</text>
<text class="lb" style="text-anchor:start" transform="translate(456.90,233.40) scale(1.0958,1)">unordered</text>
<text class="lb" style="text-anchor:start" transform="translate(471.07,253.50) scale(1.0286,1)">1634</text>
<text class="lb" style="text-anchor:start" transform="translate(582.65,175.90) scale(1.1452,1)">C=C</text>
<text class="lb" style="text-anchor:start" transform="translate(562.79,197.30) scale(1.1088,1)">stretching</text>
<text class="lb" style="text-anchor:start" transform="translate(567.90,217.30) scale(1.0967,1)">aromatic</text>
<text class="lb" style="text-anchor:start" transform="translate(555.41,238.00) scale(1.0869,1)">amino acids</text>
<text class="pl" style="text-anchor:start" transform="translate(655.32,546.50) scale(1.0786,1)">(B)</text>
<text class="lb" style="text-anchor:start" transform="translate(413.89,539.10) scale(1.1095,1)">ggt</text>
<text class="lb" style="text-anchor:start" transform="translate(396.60,559.10) scale(1.1000,1)">520</text>
<text class="lb" style="text-anchor:start" transform="translate(472.71,645.60) scale(1.0920,1)">ggg</text>
<text class="lb" style="text-anchor:start" transform="translate(474.48,664.80) scale(1.1160,1)">506</text>
<text class="lb" style="text-anchor:start" transform="translate(278.30,744.70) scale(1.0389,1)">tgt</text>
<text class="lb" style="text-anchor:start" transform="translate(270.69,765.80) scale(1.1080,1)">540</text>
<text class="lb" style="text-anchor:start" transform="translate(578.89,814.20) scale(1.1091,1)">strained</text>
<text class="lb" style="text-anchor:start" transform="translate(590.90,833.70) scale(1.0885,1)">493</text>
<text class="lb" style="text-anchor:start" transform="translate(640.20,858.30) scale(1.1030,1)">CCN</text>
<text class="lb" style="text-anchor:start" transform="translate(628.41,879.40) scale(1.0909,1)">bending</text>
<text class="lb" style="text-anchor:start" transform="translate(95.50,714.50) scale(1.0828,1)">Amide VI</text>
<line class="ld" x1="370.3" y1="57.6" x2="400.1" y2="42.7"/>
<line class="ld" x1="475.0" y1="256.4" x2="449.8" y2="286.3"/>
<line class="ld" x1="151.2" y1="274.5" x2="180.0" y2="340.2"/>
<line class="ld" x1="62.3" y1="364.8" x2="71.2" y2="413.5"/>
<line class="ld" x1="101.4" y1="360.6" x2="113.2" y2="397.6"/>
<line class="ld" x1="596.4" y1="838.8" x2="573.6" y2="867.4"/>
<path class="br" d="M494.4,292.9 Q495.9,270.9 509.4,270.9 L576.5,270.9 Q590.0,270.9 591.5,250.3 Q593.0,270.9 606.5,270.9 L673.5,270.9 Q687.0,270.9 688.5,292.9"/>
<path class="br" d="M34.2,763.1 Q35.7,742.2 49.2,742.2 L111.1,742.2 Q124.6,742.2 126.1,721.5 Q127.6,742.2 141.1,742.2 L203.0,742.2 Q216.5,742.2 218.0,763.1"/>
</svg>
</body></html>
